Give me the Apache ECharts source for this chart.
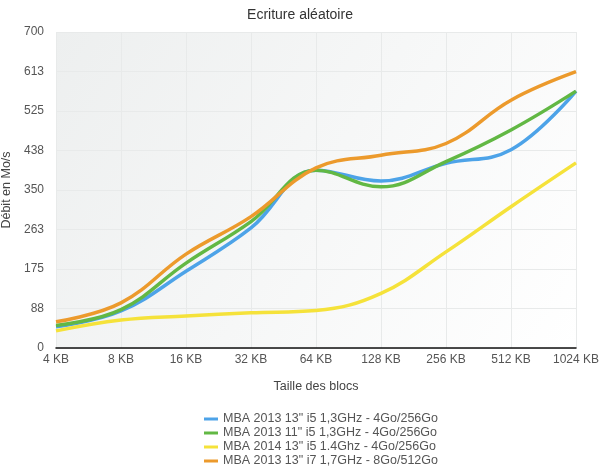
<!DOCTYPE html>
<html><head><meta charset="utf-8">
<script src="https://cdn.jsdelivr.net/npm/echarts@6/dist/echarts.min.js"></script>
<style>html,body{margin:0;padding:0;background:#fff}#c{width:600px;height:468px}</style>
</head><body><div id="c"></div>
<script>
const categories = ['4 KB','8 KB','16 KB','32 KB','64 KB','128 KB','256 KB','512 KB','1024 KB'];
const yTicks = [0, 88, 175, 263, 350, 438, 525, 613, 700];
const names = [
  'MBA 2013 13" i5 1,3GHz - 4Go/256Go',
  'MBA 2013 11" i5 1,3GHz - 4Go/256Go',
  'MBA 2014 13" i5 1.4Ghz - 4Go/256Go',
  'MBA 2013 13" i7 1,7GHz - 8Go/512Go'
];
const blue   = [47, 82, 170, 266, 394, 370, 409, 439, 569];
const green  = [50, 85, 188, 280, 394, 357, 413, 483, 569];
const yellow = [38, 62, 71, 78, 83, 121, 213, 313, 410];
const orange = [58, 100, 208, 291, 399, 427, 453, 549, 612];
const colors = ['#4da3e8', '#62b844', '#f5e23a', '#ec9a2c'];
const seriesData = [blue, green, yellow, orange];

const chart = echarts.init(document.getElementById('c'));
const font = 'Liberation Sans, Arial, sans-serif';
chart.setOption({
  animation: false,
  textStyle: {fontFamily: font},
  title: {text: 'Ecriture aléatoire', left: 'center', top: 3,
    textStyle: {fontSize: 14, fontWeight: 'normal', color: '#333', fontFamily: font}},
  grid: {left: 56, right: 24, top: 32, bottom: 120, show: true, borderWidth: 0,
    outerBoundsMode: 'none', containLabel: false,
    backgroundColor: new echarts.graphic.LinearGradient(0, 0, 1, 1, [
      {offset: 0, color: '#edefef'}, {offset: 1, color: '#ffffff'}])},
  legend: {orient: 'vertical', left: 204, top: 412, padding: 0, itemWidth: 14, itemHeight: 3, itemGap: 0,
    icon: 'rect', textStyle: {fontSize: 12.5, lineHeight: 14, color: '#555', fontFamily: font},
    data: names},
  xAxis: {type: 'category', data: categories, boundaryGap: false,
    name: 'Taille des blocs', nameLocation: 'middle', nameGap: 32,
    nameTextStyle: {fontSize: 12.5, color: '#444'},
    axisLine: {lineStyle: {color: '#111', width: 1.5}},
    axisTick: {show: false},
    axisLabel: {fontSize: 12, color: '#555', margin: 6},
    splitLine: {show: true, lineStyle: {color: '#e8eaea'}}},
  yAxis: {type: 'value', min: 0, max: 700, interval: 87.5,
    name: 'Débit en Mo/s', nameLocation: 'middle', nameGap: 33,
    nameTextStyle: {fontSize: 12.5, color: '#444'},
    axisLine: {show: false}, axisTick: {show: false},
    axisLabel: {fontSize: 12, color: '#555', margin: 12,
      formatter: (v) => { const i = Math.round(v / 87.5); return String(yTicks[i]); }},
    splitLine: {show: true, lineStyle: {color: '#e8eaea'}}},
  series: seriesData.map((d, i) => ({
    name: names[i], type: 'line', data: d, smooth: 0.4, symbol: 'none',
    lineStyle: {width: 3.5, color: colors[i]}, itemStyle: {color: colors[i]}
  }))
});
</script></body></html>
